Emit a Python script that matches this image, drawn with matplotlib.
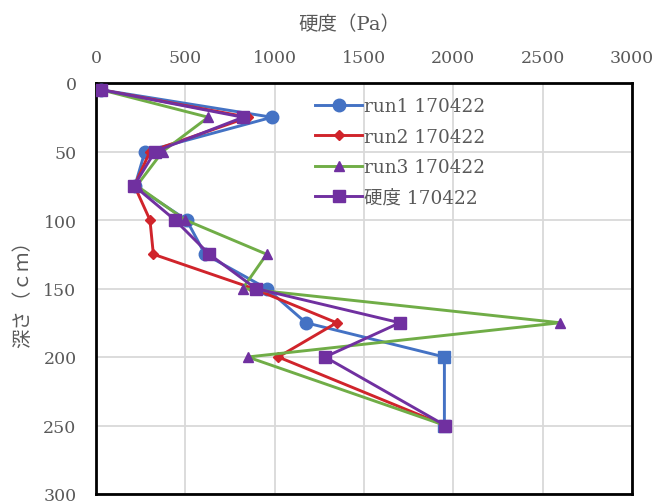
import matplotlib
matplotlib.use("Agg")
import matplotlib.pyplot as plt

plt.rcParams['font.family'] = ['DejaVu Serif', 'Noto Sans CJK JP', 'DejaVu Sans']

depth = [5, 25, 50, 75, 100, 125, 150, 175, 200, 250]
run1 = [30, 985, 274, 218, 507, 610, 955, 1175, 1950, 1950]
run2 = [30, 852, 302, 215, 302, 321, 880, 1347, 1020, 1955]
run3 = [30, 628, 373, 228, 500, 955, 821, 2597, 849, 1955]
hardness = [30, 824, 330, 213, 442, 634, 894, 1701, 1282, 1955]

labels = ['run1 170422', 'run2 170422', 'run3 170422', '硬度 170422']
x_ticks = [0, 500, 1000, 1500, 2000, 2500, 3000]
y_ticks = [0, 50, 100, 150, 200, 250, 300]

blue = '#4472C4'
red = '#D0242B'
green = '#70AD47'
purple = '#7030A0'
gray = '#595959'

fig = plt.figure(figsize=(6.58, 5.02), dpi=100)
ax = fig.add_axes([96/658, 1-495/502, (632-96)/658, (495-84)/502])

lw = 2.1
ax.plot(run1, depth, color=blue, lw=lw, marker='o', ms=9, mfc=blue, mec=blue,
        markevery=list(range(8)), label=labels[0], zorder=3)
ax.plot(run1[8:], depth[8:], ls='none', marker='s', ms=8, color=blue, zorder=3)
ax.plot(run2, depth, color=red, lw=lw, marker='D', ms=5, mfc=red, mec=red,
        label=labels[1], zorder=4)
ax.plot(run3, depth, color=green, lw=lw, marker='^', ms=7, mfc=purple, mec=purple,
        label=labels[2], zorder=5)
ax.plot(hardness, depth, color=purple, lw=lw, marker='s', ms=8, mfc=purple, mec=purple,
        label=labels[3], zorder=6)

ax.set_xlim(0, 3000)
ax.set_ylim(300, 0)
ax.set_xticks(x_ticks)
ax.set_yticks(y_ticks)
ax.xaxis.tick_top()
ax.xaxis.set_label_position('top')
ax.tick_params(axis='both', length=0, labelsize=12.5, colors=gray)
ax.tick_params(axis='x', pad=12)
ax.tick_params(axis='y', pad=14)
ax.grid(True, color='#D9D9D9', lw=1.3)
ax.set_axisbelow(True)
for s in ax.spines.values():
    s.set_color('black')
    s.set_linewidth(2)

ax.set_xlabel('硬度（Pa）', fontsize=14, color=gray)
ax.xaxis.set_label_coords((349 - 96) / 536, 1 + (84 - 30) / 411)
ax.set_ylabel('深さ（ｃｍ）', fontsize=14, color=gray, labelpad=8)

leg = ax.legend(loc='upper left', bbox_to_anchor=(315/658, 1-98/502),
                bbox_transform=fig.transFigure, frameon=False, fontsize=13.3,
                handlelength=2.55, handletextpad=0.1, labelspacing=0.68,
                borderpad=0, borderaxespad=0)
for t in leg.get_texts():
    t.set_color(gray)

fig.savefig('out.png', dpi=100)
